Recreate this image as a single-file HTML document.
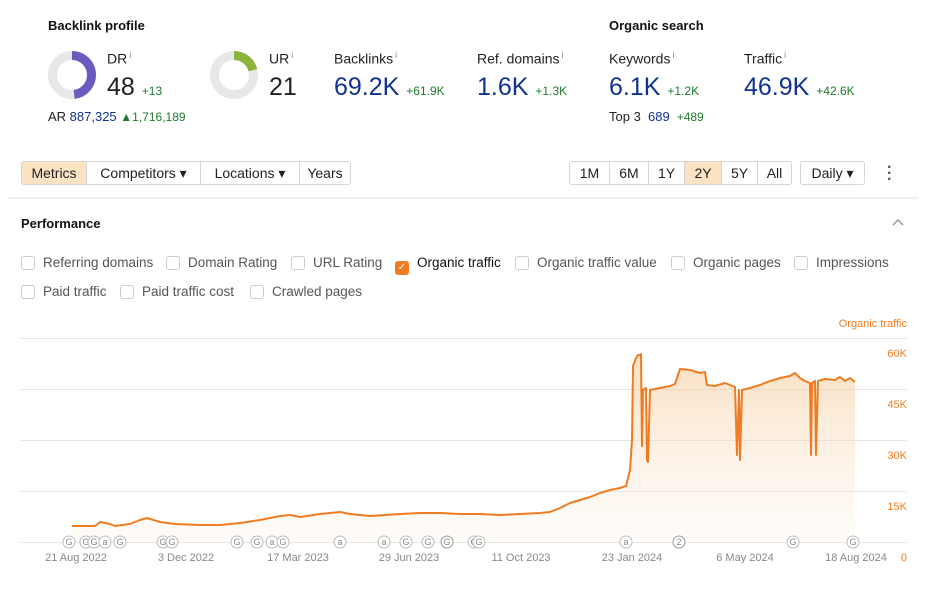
<!DOCTYPE html>
<html><head><meta charset="utf-8"><style>
body{margin:0;width:934px;height:589px;background:#fff;font-family:"Liberation Sans",sans-serif;position:relative;overflow:hidden;color:#222}
.a{position:absolute;white-space:nowrap}
.h{font-weight:bold;font-size:13px;color:#111}
.lbl{font-size:14px;color:#222}
.lbl sup{font-size:9px;color:#888;margin-left:2px}
.big{font-size:25px}
.blue{color:#12328f}
.g{color:#1e7a2e;font-size:12px}
.btn{position:absolute;top:161px;height:24px;border:1px solid #d6d6d6;box-sizing:border-box;font-size:14px;line-height:23px;text-align:center;background:#fff;color:#222}
.on{background:#fbe3c4}
.cb{position:absolute;font-size:13.5px;color:#555;white-space:nowrap}
.cb i{display:inline-block;width:12px;height:12px;border:1px solid #ccc;border-radius:3px;vertical-align:-3px;margin-right:8px}
</style></head><body>
<div class="a h" style="left:48px;top:18px">Backlink profile</div>
<div class="a h" style="left:609px;top:18px">Organic search</div>
<svg class="a" style="left:0;top:0" width="934" height="140">
<circle cx="72" cy="75" r="19.5" fill="none" stroke="#e8e8ea" stroke-width="9"/>
<circle cx="72" cy="75" r="19.5" fill="none" stroke="#6b5bbd" stroke-width="9" stroke-dasharray="59 200" transform="rotate(-90 72 75)"/>
<circle cx="234" cy="75" r="19.5" fill="none" stroke="#e8e8ea" stroke-width="9"/>
<circle cx="234" cy="75" r="19.5" fill="none" stroke="#8cb33a" stroke-width="9" stroke-dasharray="25.7 200" transform="rotate(-90 234 75)"/>
</svg>
<div class="a lbl" style="left:107px;top:50px">DR<sup>i</sup></div>
<div class="a big" style="left:107px;top:73px">48 <span class="g">+13</span></div>
<div class="a" style="left:48px;top:109px;font-size:13px">AR <span class="blue">887,325</span> <span class="g" style="font-size:12px">▲1,716,189</span></div>
<div class="a lbl" style="left:269px;top:50px">UR<sup>i</sup></div>
<div class="a big" style="left:269px;top:73px">21</div>
<div class="a lbl" style="left:334px;top:50px">Backlinks<sup>i</sup></div>
<div class="a big blue" style="left:334px;top:73px">69.2K <span class="g">+61.9K</span></div>
<div class="a lbl" style="left:477px;top:50px">Ref. domains<sup>i</sup></div>
<div class="a big blue" style="left:477px;top:73px">1.6K <span class="g">+1.3K</span></div>
<div class="a lbl" style="left:609px;top:50px">Keywords<sup>i</sup></div>
<div class="a big blue" style="left:609px;top:73px">6.1K <span class="g">+1.2K</span></div>
<div class="a lbl" style="left:744px;top:50px">Traffic<sup>i</sup></div>
<div class="a big blue" style="left:744px;top:73px">46.9K <span class="g">+42.6K</span></div>
<div class="a" style="left:609px;top:109px;font-size:13px">Top 3 <span class="blue">&nbsp;689</span> <span class="g">&nbsp;+489</span></div>

<div class="btn on" style="left:21px;width:66px;border-radius:3px 0 0 3px">Metrics</div>
<div class="btn" style="left:86px;width:115px">Competitors ▾</div>
<div class="btn" style="left:200px;width:100px">Locations ▾</div>
<div class="btn" style="left:299px;width:52px;border-radius:0 3px 3px 0">Years</div>
<div class="btn" style="left:569px;width:41px;border-radius:3px 0 0 3px">1M</div>
<div class="btn" style="left:609px;width:40px">6M</div>
<div class="btn" style="left:648px;width:37px">1Y</div>
<div class="btn on" style="left:684px;width:38px">2Y</div>
<div class="btn" style="left:721px;width:37px">5Y</div>
<div class="btn" style="left:757px;width:35px;border-radius:0 3px 3px 0">All</div>
<div class="btn" style="left:800px;width:65px;border-radius:3px">Daily ▾</div>
<div class="a" style="left:887px;top:165px;font-size:16px;line-height:6px;font-weight:bold;color:#555">·<br>·<br>·</div>
<div class="a" style="left:8px;top:197px;width:910px;height:2px;background:#f0f0f0"></div>
<div class="a h" style="left:21px;top:216px">Performance</div>
<svg class="a" style="left:891px;top:217px" width="14" height="10"><path d="M2 8 L7 3 L12 8" fill="none" stroke="#999" stroke-width="1.5"/></svg>

<div class="cb" style="left:21px;top:255px"><i></i>Referring domains</div>
<div class="cb" style="left:166px;top:255px"><i></i>Domain Rating</div>
<div class="cb" style="left:291px;top:255px"><i></i>URL Rating</div>
<div class="cb" style="left:395px;top:255px;color:#111"><i style="background:#ef7c22;border-color:#ef7c22;color:#fff;font-size:10px;font-style:normal;text-align:center;line-height:12px">✓</i>Organic traffic</div>
<div class="cb" style="left:515px;top:255px"><i></i>Organic traffic value</div>
<div class="cb" style="left:671px;top:255px"><i></i>Organic pages</div>
<div class="cb" style="left:794px;top:255px"><i></i>Impressions</div>
<div class="cb" style="left:21px;top:284px"><i></i>Paid traffic</div>
<div class="cb" style="left:120px;top:284px"><i></i>Paid traffic cost</div>
<div class="cb" style="left:250px;top:284px"><i></i>Crawled pages</div>

<svg class="a" style="left:0;top:300px" width="934" height="289" font-family="Liberation Sans, sans-serif">
<defs><linearGradient id="gr" x1="0" y1="0" x2="0" y2="1"><stop offset="0" stop-color="#f5c996" stop-opacity="0.6"/><stop offset="1" stop-color="#fde9d5" stop-opacity="0.15"/></linearGradient></defs>
<text x="907" y="27" font-size="11" fill="#ef7c22" text-anchor="end">Organic traffic</text>
<g stroke="#e6e6e6" stroke-width="1">
<line x1="20" y1="38.5" x2="907" y2="38.5"/><line x1="20" y1="89.5" x2="907" y2="89.5"/><line x1="20" y1="140.5" x2="907" y2="140.5"/><line x1="20" y1="191.5" x2="907" y2="191.5"/><line x1="20" y1="242.5" x2="907" y2="242.5"/></g>
<g font-size="11" fill="#ef7c22" text-anchor="end"><text x="907" y="57">60K</text><text x="907" y="108">45K</text><text x="907" y="159">30K</text><text x="907" y="210">15K</text><text x="907" y="261">0</text></g>
<g transform="translate(0,-300)">
<path id="ln" d="M72,526 L95,526 L100,522 L110,524 L115,526 L130,524 L140,520 L147,518 L160,522 L175,524 L200,525 L220,525 L240,523 L260,520 L280,516 L290,515 L300,517 L320,514 L340,512 L350,514 L370,516 L400,514 L420,513 L440,513 L460,514 L480,514 L500,515 L520,514 L540,513 L550,512 L560,508 L570,503 L580,500 L590,497 L600,493 L610,490 L620,488 L626,486 L628,478 L630,470 L632,440 L633,366 L636,358 L638,355 L640,355 L641,354 L642,446 L643,390 L646,388 L647,460 L648,462 L650,390 L660,388 L670,386 L675,384 L678,375 L680,369 L690,370 L700,373 L705,372 L707,385 L715,386 L725,383 L730,385 L735,387 L737,455 L739,390 L740,460 L742,390 L750,388 L760,385 L770,381 L780,378 L790,376 L795,373 L800,378 L805,381 L810,383 L811,455 L812,383 L815,381 L816,455 L818,381 L825,379 L835,380 L840,377 L845,381 L850,378 L855,382" fill="none"/>
<path d="M72,526 L95,526 L100,522 L110,524 L115,526 L130,524 L140,520 L147,518 L160,522 L175,524 L200,525 L220,525 L240,523 L260,520 L280,516 L290,515 L300,517 L320,514 L340,512 L350,514 L370,516 L400,514 L420,513 L440,513 L460,514 L480,514 L500,515 L520,514 L540,513 L550,512 L560,508 L570,503 L580,500 L590,497 L600,493 L610,490 L620,488 L626,486 L628,478 L630,470 L632,440 L633,366 L636,358 L638,355 L640,355 L641,354 L642,446 L643,390 L646,388 L647,460 L648,462 L650,390 L660,388 L670,386 L675,384 L678,375 L680,369 L690,370 L700,373 L705,372 L707,385 L715,386 L725,383 L730,385 L735,387 L737,455 L739,390 L740,460 L742,390 L750,388 L760,385 L770,381 L780,378 L790,376 L795,373 L800,378 L805,381 L810,383 L811,455 L812,383 L815,381 L816,455 L818,381 L825,379 L835,380 L840,377 L845,381 L850,378 L855,382 L855,542 L72,542 Z" fill="url(#gr)"/>
<use href="#ln" stroke="#ef7c22" stroke-width="2" stroke-linejoin="round"/>
<g font-size="9" fill="#888" text-anchor="middle">
<circle cx="69" cy="542" r="6" fill="#fff" stroke="#bbb"/><text x="69" y="545">G</text>
<circle cx="86" cy="542" r="6" fill="#fff" stroke="#bbb"/><text x="86" y="545">G</text>
<circle cx="94" cy="542" r="6" fill="#fff" stroke="#bbb"/><text x="94" y="545">G</text>
<circle cx="105" cy="542" r="6" fill="#fff" stroke="#bbb"/><text x="105" y="545">a</text>
<circle cx="120" cy="542" r="6" fill="#fff" stroke="#bbb"/><text x="120" y="545">G</text>
<circle cx="163" cy="542" r="6" fill="#fff" stroke="#bbb"/><text x="163" y="545">G</text>
<circle cx="172" cy="542" r="6" fill="#fff" stroke="#bbb"/><text x="172" y="545">G</text>
<circle cx="237" cy="542" r="6" fill="#fff" stroke="#bbb"/><text x="237" y="545">G</text>
<circle cx="257" cy="542" r="6" fill="#fff" stroke="#bbb"/><text x="257" y="545">G</text>
<circle cx="272" cy="542" r="6" fill="#fff" stroke="#bbb"/><text x="272" y="545">a</text>
<circle cx="283" cy="542" r="6" fill="#fff" stroke="#bbb"/><text x="283" y="545">G</text>
<circle cx="340" cy="542" r="6" fill="#fff" stroke="#bbb"/><text x="340" y="545">a</text>
<circle cx="384" cy="542" r="6" fill="#fff" stroke="#bbb"/><text x="384" y="545">a</text>
<circle cx="406" cy="542" r="6" fill="#fff" stroke="#bbb"/><text x="406" y="545">G</text>
<circle cx="428" cy="542" r="6" fill="#fff" stroke="#bbb"/><text x="428" y="545">G</text>
<circle cx="447" cy="542" r="6" fill="#fff" stroke="#999"/><text x="447" y="545">G</text>
<circle cx="474" cy="542" r="6" fill="#fff" stroke="#bbb"/><text x="474" y="545">G</text>
<circle cx="479" cy="542" r="6" fill="#fff" stroke="#bbb"/><text x="479" y="545">G</text>
<circle cx="626" cy="542" r="6" fill="#fff" stroke="#bbb"/><text x="626" y="545">a</text>
<circle cx="679" cy="542" r="6" fill="#fff" stroke="#999"/><text x="679" y="545">2</text>
<circle cx="793" cy="542" r="6" fill="#fff" stroke="#bbb"/><text x="793" y="545">G</text>
<circle cx="853" cy="542" r="6" fill="#fff" stroke="#bbb"/><text x="853" y="545">G</text>
</g>
<g font-size="11" fill="#888" text-anchor="middle">
<text x="76" y="561">21 Aug 2022</text><text x="186" y="561">3 Dec 2022</text><text x="298" y="561">17 Mar 2023</text><text x="409" y="561">29 Jun 2023</text><text x="521" y="561">11 Oct 2023</text><text x="632" y="561">23 Jan 2024</text><text x="745" y="561">6 May 2024</text><text x="856" y="561">18 Aug 2024</text>
</g>
</g>
</svg>
</body></html>
